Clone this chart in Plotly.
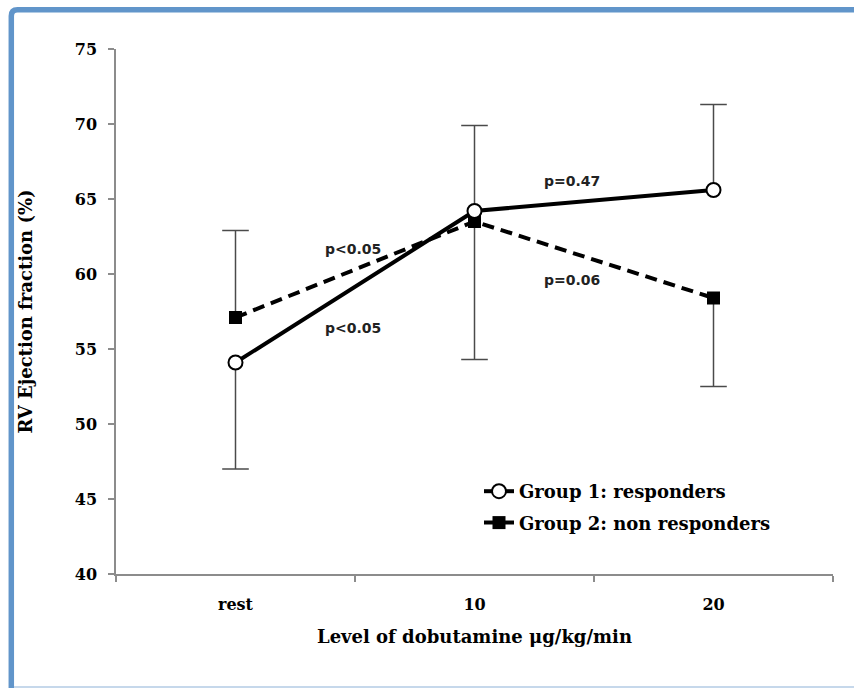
import plotly.graph_objects as go

# Dobutamine stress levels
levels = ["rest", "10", "20"]

# Group 1: responders (mean RV ejection fraction, %)
g1_mean = [54.1, 64.2, 65.6]
g1_err_up = [0.0, 5.7, 5.7]
g1_err_down = [7.1, 0.0, 0.0]

# Group 2: non responders
g2_mean = [57.1, 63.5, 58.4]
g2_err_up = [5.8, 0.0, 0.0]
g2_err_down = [0.0, 9.2, 5.9]

# Significance labels between levels
p_labels = ["p<0.05", "p<0.05", "p=0.47", "p=0.06"]
p_x = [0.49, 0.49, 1.41, 1.41]
p_y = [61.7, 56.4, 66.2, 59.6]

SERIF = "DejaVu Serif"
ERR_COLOR = "#4a4a4a"
AXIS_COLOR = "#8c8c8c"

# figure geometry (pixels) used for the frame around the chart
W, H = 854, 688
ML, MR, MT, MB = 116, 21, 49, 114
PW, PH = W - ML - MR, H - MT - MB


def px(x):
    return (x - ML) / PW


def py(y):
    return (H - MB - y) / PH


def error_segments(means, up, down):
    """Stems and cap positions for one-sided error bars."""
    sx, sy, cx, cy = [], [], [], []
    for lvl, m, u, d in zip(levels, means, up, down):
        for e in (u, -d):
            if e != 0:
                sx += [lvl, lvl, None]
                sy += [m, m + e, None]
                cx.append(lvl)
                cy.append(m + e)
    return sx, sy, cx, cy


fig = go.Figure()

for means, up, down in ((g1_mean, g1_err_up, g1_err_down), (g2_mean, g2_err_up, g2_err_down)):
    sx, sy, cx, cy = error_segments(means, up, down)
    fig.add_trace(go.Scatter(
        x=sx, y=sy, mode="lines", showlegend=False, hoverinfo="skip",
        line=dict(color=ERR_COLOR, width=1.5),
    ))
    fig.add_trace(go.Scatter(
        x=cx, y=cy, mode="markers", showlegend=False, hoverinfo="skip",
        marker=dict(symbol="line-ew", size=19, line=dict(color=ERR_COLOR, width=1.5)),
    ))

fig.add_trace(go.Scatter(
    x=levels, y=g2_mean, mode="lines+markers", name="Group 2: non responders",
    legendgroup="g2", legendrank=2,
    line=dict(color="black", width=4, dash="12px,7px"),
    marker=dict(symbol="square", size=13, color="black"),
))
fig.add_trace(go.Scatter(
    x=levels, y=g1_mean, mode="lines+markers", name="Group 1: responders",
    legendgroup="g1", legendrank=1,
    line=dict(color="black", width=4),
    marker=dict(symbol="circle", size=14, color="white", line=dict(color="black", width=2)),
))

for text, x, y in zip(p_labels, p_x, p_y):
    fig.add_annotation(
        x=x, y=y, text=text, showarrow=False,
        font=dict(family="DejaVu Sans", size=14, color="#222222", weight="bold"),
    )

fig.update_layout(
    width=W, height=H,
    margin=dict(l=ML, r=MR, t=MT, b=MB),
    paper_bgcolor="white", plot_bgcolor="white",
    font=dict(family=SERIF, color="black"),
    legend=dict(
        x=px(479), y=py(473), xanchor="left", yanchor="top",
        bgcolor="rgba(0,0,0,0)", traceorder="grouped", tracegroupgap=5,
        font=dict(family=SERIF, size=18, color="black", weight="bold"),
        itemwidth=30,
    ),
    xaxis=dict(
        type="category", categoryorder="array", categoryarray=levels,
        range=[-0.5, 2.5], tickson="boundaries",
        ticks="outside", ticklen=6, tickwidth=1.5, tickcolor=AXIS_COLOR,
        showline=True, linecolor=AXIS_COLOR, linewidth=1.5,
        showgrid=False, zeroline=False,
        tickfont=dict(family=SERIF, size=16, weight="bold"),
        ticklabelstandoff=15,
        title=dict(text="Level of dobutamine μg/kg/min", standoff=17,
                   font=dict(family=SERIF, size=18, weight="bold")),
    ),
    yaxis=dict(
        range=[40, 75], dtick=5, tick0=40,
        ticks="outside", ticklen=6, tickwidth=1.5, tickcolor=AXIS_COLOR,
        showline=True, linecolor=AXIS_COLOR, linewidth=1.5,
        showgrid=False, zeroline=False,
        tickfont=dict(family=SERIF, size=16, weight="bold"),
        ticklabelstandoff=8,
        title=dict(text="RV Ejection fraction (%)", standoff=37,
                   font=dict(family=SERIF, size=18, weight="bold")),
    ),
    shapes=[
        # blue frame: left edge and top edge with a rounded corner
        dict(type="path", xref="paper", yref="paper",
             path=(f"M {px(11.3)},{py(720)} L {px(11.3)},{py(16)} "
                   f"Q {px(11.3)},{py(9.8)} {px(17.5)},{py(9.8)} L {px(880)},{py(9.8)}"),
             line=dict(color="#6195CA", width=5.5), layer="above"),
        dict(type="line", xref="paper", yref="paper",
             x0=px(14), x1=px(880), y0=py(687), y1=py(687),
             line=dict(color="#B3CBE4", width=1.5)),
    ],
)

fig.write_html("out.html")
